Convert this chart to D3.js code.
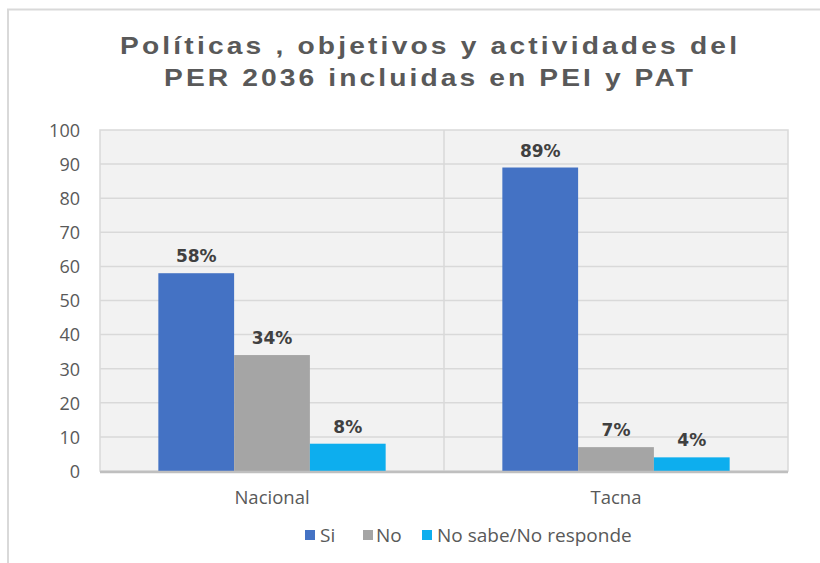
<!DOCTYPE html>
<html><head><meta charset="utf-8">
<script src="https://cdn.jsdelivr.net/npm/d3@7"></script>
<style>body{margin:0;background:#fff}svg{display:block}</style>
</head><body>
<svg id="c" width="820" height="563"></svg>
<script>
const titleLines = ["Políticas , objetivos y actividades del", "PER 2036 incluidas en PEI y PAT"];
const categories = ["Nacional", "Tacna"];
const seriesNames = ["Si", "No", "No sabe/No responde"];
const siValues = [58, 89];
const noValues = [34, 7];
const nsValues = [8, 4];
const yTicks = [0, 10, 20, 30, 40, 50, 60, 70, 80, 90, 100];
const colors = ["#4472C4", "#A5A5A5", "#0DAEEE"];

const series = [siValues, noValues, nsValues];
const svg = d3.select("#c");

// outer frame
svg.append("line").attr("x1", 7).attr("x2", 820).attr("y1", 9.5).attr("y2", 9.5).attr("stroke", "#d9d9d9").attr("stroke-width", 2);
svg.append("line").attr("x1", 8).attr("x2", 8).attr("y1", 9).attr("y2", 563).attr("stroke", "#d9d9d9").attr("stroke-width", 2);

// title (horizontally stretched, like the reference)
const k = 1.2;
const tl = [{y: 53.5, len: 617}, {y: 86, len: 529}];
titleLines.forEach((t, i) => {
  svg.append("text").attr("transform", `translate(428.5,${tl[i].y}) scale(${k},1)`)
    .attr("text-anchor", "middle")
    .attr("font-family", "Liberation Sans, Arial, sans-serif").attr("font-weight", "bold")
    .attr("font-size", 23.5).attr("fill", "#595959")
    .attr("textLength", tl[i].len / k).attr("lengthAdjust", "spacing").text(t);
});

const L = 100, R = 788, T = 130, B = 471;
const x0 = d3.scaleBand().domain(categories).range([L, R]).paddingInner(0).paddingOuter(0);
const x1 = d3.scaleBand().domain(seriesNames).range([0, x0.bandwidth()]).paddingInner(0).paddingOuter(0.77);
const y = d3.scaleLinear().domain([0, 100]).range([B, T]);

svg.append("rect").attr("x", L).attr("y", T).attr("width", R - L).attr("height", B - T)
  .attr("fill", "#f2f2f2").attr("stroke", "#d9d9d9").attr("stroke-width", 1.5);

// gridlines
svg.append("g").selectAll("line").data(yTicks.filter(d => d > 0 && d < 100)).join("line")
  .attr("x1", L).attr("x2", R).attr("y1", d => y(d)).attr("y2", d => y(d))
  .attr("stroke", "#d9d9d9").attr("stroke-width", 1.5);
// category separator
svg.append("line").attr("x1", x0("Tacna")).attr("x2", x0("Tacna")).attr("y1", T).attr("y2", B)
  .attr("stroke", "#d9d9d9").attr("stroke-width", 1.5);

// y axis labels
const yAxis = d3.axisLeft(y).tickValues(yTicks).tickSize(0).tickPadding(20);
const ya = svg.append("g").attr("transform", `translate(${L},0)`).call(yAxis);
ya.select(".domain").remove();
ya.selectAll("text").attr("font-family", "Open Sans, sans-serif").attr("font-size", 18).attr("fill", "#595959").attr("dy", "0.35em");

// bars
const groups = svg.append("g").selectAll("g").data(categories).join("g")
  .attr("transform", d => `translate(${x0(d)},0)`);
groups.selectAll("rect").data((c, ci) => seriesNames.map((s, si) => ({s, si, v: series[si][ci]}))).join("rect")
  .attr("x", d => x1(d.s)).attr("width", x1.bandwidth())
  .attr("y", d => y(d.v)).attr("height", d => y(0) - y(d.v))
  .attr("fill", d => colors[d.si]);
groups.selectAll("text").data((c, ci) => seriesNames.map((s, si) => ({s, si, v: series[si][ci]}))).join("text")
  .attr("x", d => x1(d.s) + x1.bandwidth() / 2).attr("y", d => y(d.v) - 11)
  .attr("text-anchor", "middle").attr("font-family", "DejaVu Sans, Verdana, sans-serif")
  .attr("font-weight", "bold").attr("font-size", 17).attr("fill", "#404040")
  .text(d => d.v + "%");

// x axis line
svg.append("line").attr("x1", L).attr("x2", R).attr("y1", B + 1).attr("y2", B + 1)
  .attr("stroke", "#bfbfbf").attr("stroke-width", 2.5);

// x axis labels
const xAxis = d3.axisBottom(x0).tickSize(0).tickPadding(0);
const xa = svg.append("g").attr("transform", `translate(0,${B})`).call(xAxis);
xa.select(".domain").remove();
xa.selectAll("text").attr("font-family", "Open Sans, sans-serif").attr("font-size", 18.5)
  .attr("fill", "#595959").attr("y", 33).attr("dy", 0);

// legend
const legItems = [{x: 305, tx: 320}, {x: 363, tx: 376}, {x: 422, tx: 437}];
const leg = svg.append("g");
seriesNames.forEach((s, i) => {
  leg.append("rect").attr("x", legItems[i].x).attr("y", 530).attr("width", 10).attr("height", 10).attr("fill", colors[i]);
  leg.append("text").attr("x", legItems[i].tx).attr("y", 542).attr("font-family", "Open Sans, sans-serif")
    .attr("font-size", 19).attr("fill", "#595959").text(s);
});
</script>
</body></html>
